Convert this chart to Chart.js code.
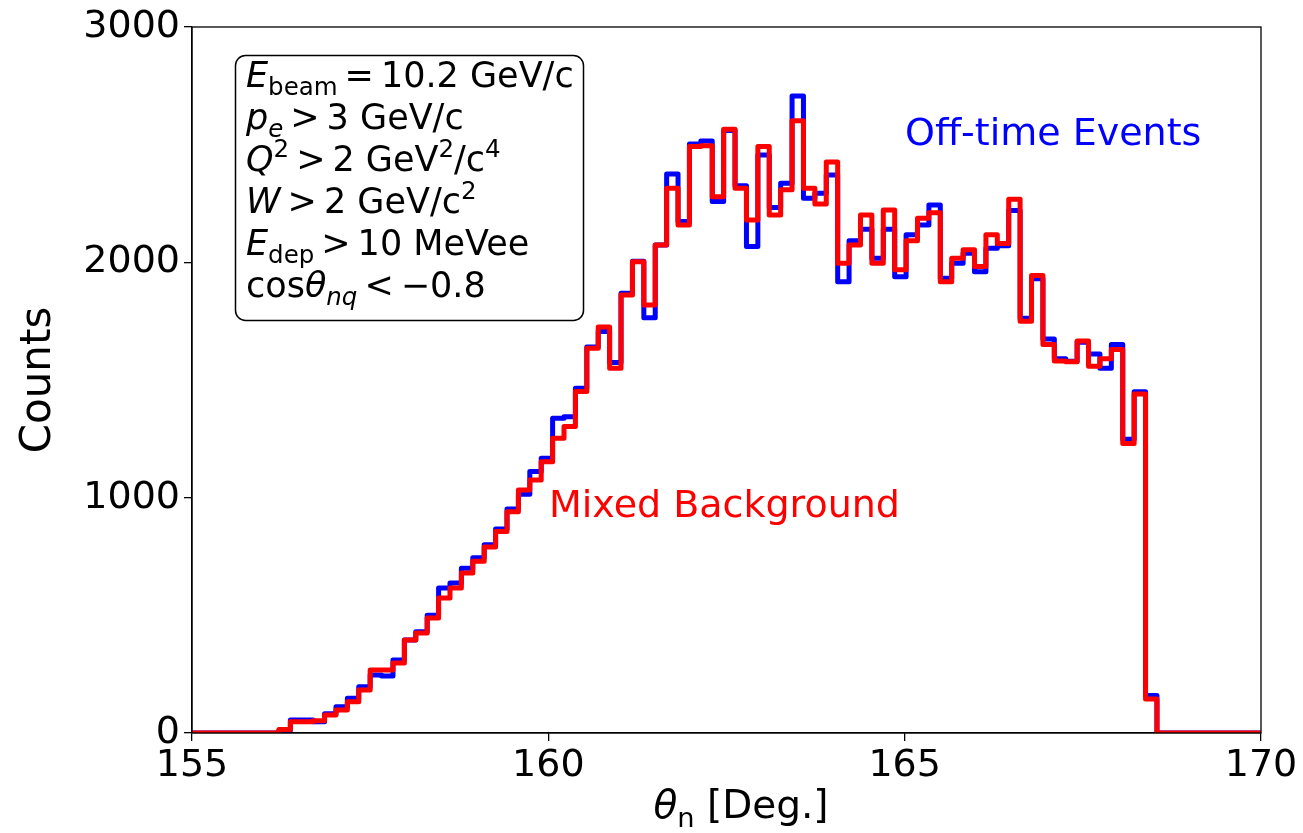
<!DOCTYPE html>
<html>
<head>
<meta charset="utf-8">
<script src="https://cdn.jsdelivr.net/npm/chart.js@4.4.1/dist/chart.umd.min.js"></script>
<style>
  html, body { margin: 0; padding: 0; background: #fff; }
</style>
</head>
<body>
<canvas id="thetaHist" width="1303" height="833"></canvas>
<script>
// binning of the histogram, in degrees
const binStart = 156.22;
const binWidth = 0.16;
const xRange = [155, 170];
const yRange = [0, 3000];

// counts per bin, blue = off-time, red = mixed background
const offTimeCounts = [
  12, 55, 55, 48, 82, 112, 148, 197, 246, 242,
  310, 395, 430, 500, 616, 637, 700, 745, 800, 867,
  952, 1015, 1111, 1168, 1337, 1344, 1465, 1640, 1706, 1574,
  1869, 2005, 1765, 2074, 2375, 2173, 2503, 2516, 2258, 2560,
  2325, 2067, 2456, 2233, 2336, 2707, 2272, 2294, 2371, 1918,
  2092, 2141, 2017, 2141, 1939, 2117, 2159, 2244, 1932, 1996,
  2039, 1960, 2060, 2070, 2220, 1762, 1930, 1674, 1590, 1580,
  1660, 1610, 1550, 1651, 1248, 1450, 159
];
const mixedCounts = [
  15, 48, 48, 52, 76, 98, 133, 183, 268, 268,
  297, 395, 425, 489, 574, 616, 680, 730, 790, 856,
  940, 1033, 1075, 1153, 1252, 1302, 1451, 1635, 1725, 1550,
  1861, 2003, 1819, 2074, 2315, 2159, 2492, 2495, 2279, 2566,
  2315, 2180, 2492, 2201, 2308, 2602, 2315, 2248, 2426, 1996,
  2074, 2201, 1996, 2222, 1968, 2092, 2187, 2211, 1918, 2017,
  2053, 1982, 2117, 2080, 2268, 1750, 1944, 1651, 1581, 1578,
  1666, 1558, 1590, 1630, 1230, 1440, 144
];

// text in the cut box, each line is a list of runs (it = italic, sub/sup, gap in em)
const cutLines = [
  [{t: 'E', it: true}, {t: 'beam', sub: true}, {gap: 0.2}, {t: '='}, {gap: 0.2}, {t: '10.2 GeV/c'}],
  [{t: 'p', it: true}, {t: 'e', it: true, sub: true}, {gap: 0.2}, {t: '>'}, {gap: 0.2}, {t: '3 GeV/c'}],
  [{t: 'Q', it: true}, {t: '2', sup: true}, {gap: 0.2}, {t: '>'}, {gap: 0.2}, {t: '2 GeV'}, {t: '2', sup: true}, {t: '/c'}, {t: '4', sup: true}],
  [{t: 'W', it: true}, {gap: 0.2}, {t: '>'}, {gap: 0.2}, {t: '2 GeV/c'}, {t: '2', sup: true}],
  [{t: 'E', it: true}, {t: 'dep', sub: true}, {gap: 0.2}, {t: '>'}, {gap: 0.2}, {t: '10 MeVee'}],
  [{t: 'cos'}, {t: 'θ', it: true}, {t: 'nq', it: true, sub: true}, {gap: 0.2}, {t: '<'}, {gap: 0.2}, {t: '\u22120.8'}]
];
const xTitle = [{t: 'θ', it: true}, {t: 'n', sub: true}, {t: ' [Deg.]'}];

const FONT = '"DejaVu Sans", "Liberation Sans", sans-serif';

// turns bin counts into a step outline from 155 to 170
function histPoints(counts) {
  const pts = [{x: xRange[0], y: 0}];
  counts.forEach((c, i) => pts.push({x: binStart + i * binWidth, y: c}));
  pts.push({x: binStart + counts.length * binWidth, y: 0});
  pts.push({x: xRange[1], y: 0});
  return pts;
}

// draws one line of mixed italic / sub / superscript text
function drawRuns(ctx, runs, x, baseline, size, align) {
  const widthOf = r => {
    if (r.gap) return r.gap * size;
    const s = (r.sub || r.sup) ? size * 0.7 : size;
    ctx.font = (r.it ? 'italic ' : '') + s + 'px ' + FONT;
    return ctx.measureText(r.t).width;
  };
  let cx = x;
  if (align === 'center') {
    cx -= runs.reduce((w, r) => w + widthOf(r), 0) / 2;
  }
  ctx.textAlign = 'left';
  ctx.textBaseline = 'alphabetic';
  runs.forEach(r => {
    const w = widthOf(r);
    if (!r.gap) {
      const dy = r.sub ? size * 0.22 : (r.sup ? -size * 0.4 : 0);
      ctx.fillText(r.t, cx, baseline + dy);
    }
    cx += w;
  });
}

const overlayPlugin = {
  id: 'overlay',
  afterDraw(chart) {
    const ctx = chart.ctx;
    const a = chart.chartArea;
    ctx.save();

    // full frame round the axes
    ctx.strokeStyle = '#000';
    ctx.lineWidth = 1.3;
    ctx.strokeRect(a.left, a.top, a.right - a.left, a.bottom - a.top);

    // cut box
    ctx.beginPath();
    ctx.roundRect(235.5, 55.5, 348, 265, 10);
    ctx.fillStyle = '#fff';
    ctx.fill();
    ctx.lineWidth = 1.5;
    ctx.stroke();
    ctx.fillStyle = '#000';
    cutLines.forEach((line, i) => drawRuns(ctx, line, 246, 87 + i * 42, 35));

    // series labels
    ctx.font = '38px ' + FONT;
    ctx.textAlign = 'left';
    ctx.textBaseline = 'alphabetic';
    ctx.fillStyle = '#0000ff';
    ctx.fillText('Off-time Events', 905, 145);
    ctx.fillStyle = '#ff0000';
    ctx.fillText('Mixed Background', 549, 517);

    // x axis title
    ctx.fillStyle = '#000';
    drawRuns(ctx, xTitle, 741, 818, 39, 'center');
    ctx.restore();
  }
};

const ctx = document.getElementById('thetaHist').getContext('2d');
const myChart = new Chart(ctx, {
  type: 'line',
  data: {
    datasets: [
      {
        label: 'Mixed Background',
        data: histPoints(mixedCounts),
        borderColor: '#ff0000',
        borderWidth: 5,
        stepped: true,
        pointRadius: 0,
        borderJoinStyle: 'round',
        fill: false,
        order: 0
      },
      {
        label: 'Off-time Events',
        data: histPoints(offTimeCounts),
        borderColor: '#0000ff',
        borderWidth: 5,
        stepped: true,
        pointRadius: 0,
        borderJoinStyle: 'round',
        fill: false,
        order: 1
      }
    ]
  },
  options: {
    responsive: false,
    animation: false,
    devicePixelRatio: 1,
    layout: { padding: { left: 0, right: 42, top: 27, bottom: 0 } },
    plugins: {
      legend: { display: false },
      tooltip: { enabled: false }
    },
    scales: {
      x: {
        type: 'linear',
        min: xRange[0],
        max: xRange[1],
        ticks: {
          stepSize: 5,
          color: '#000',
          font: { family: FONT, size: 38 },
          padding: 2,
          maxRotation: 0,
          callback: v => String(v)
        },
        grid: { drawOnChartArea: false, drawTicks: true, tickLength: 8, color: '#000', lineWidth: 1.3 },
        border: { display: true, color: '#000', width: 1.3 },
        afterFit(scale) { scale.height = 100; }
      },
      y: {
        min: yRange[0],
        max: yRange[1],
        ticks: {
          stepSize: 1000,
          color: '#000',
          font: { family: FONT, size: 38 },
          padding: 4,
          callback: v => String(v)
        },
        grid: { drawOnChartArea: false, drawTicks: true, tickLength: 8, color: '#000', lineWidth: 1.3 },
        border: { display: true, color: '#000', width: 1.3 },
        title: {
          display: true,
          text: 'Counts',
          color: '#000',
          font: { family: FONT, size: 42 },
          padding: { top: 14, bottom: 0 }
        },
        afterFit(scale) { scale.width = 192; }
      }
    }
  },
  plugins: [overlayPlugin]
});
</script>
</body>
</html>
